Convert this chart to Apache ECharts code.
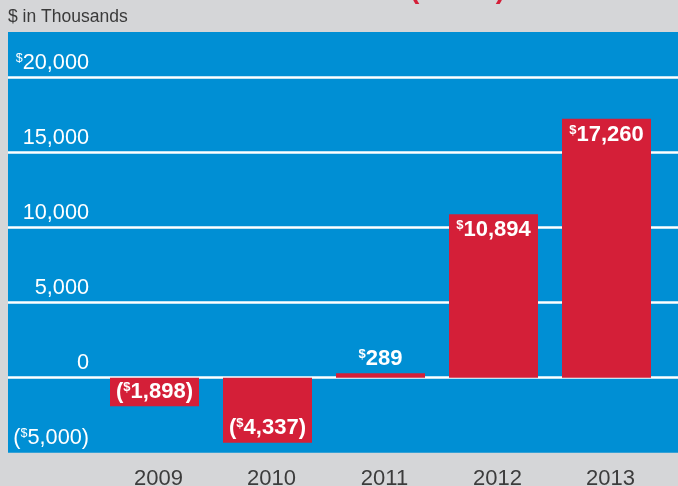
<!DOCTYPE html>
<html>
<head>
<meta charset="utf-8">
<script src="https://cdn.jsdelivr.net/npm/echarts@6/dist/echarts.min.js"></script>
<style>
html,body{margin:0;padding:0;background:#d5d6d8;}
#chart{width:678px;height:486px;}
</style>
</head>
<body>
<div id="chart"></div>
<script>
const categories = ['2009', '2010', '2011', '2012', '2013'];
const netIncome = [-1898, -4337, 289, 10894, 17260];
const yMin = -5000;
const yMax = 20000;
const yStep = 5000;
const unitLabel = '$ in Thousands';
const titleText = 'NET INCOME (LOSS)';

const FONT = '"Liberation Sans", Arial, Helvetica, sans-serif';
const fmt = v => Math.abs(v).toLocaleString('en-US');

function axisFmt(v) {
  if (v === yMax) return '{s|$}' + fmt(v);
  if (v < 0) return '({s|$}' + fmt(v) + ')';
  return fmt(v);
}
function barFmt(p) {
  const v = p.value;
  if (v < 0) return '({s|$}' + fmt(v) + ')';
  return '{s|$}' + fmt(v);
}
function labelPos(v) {
  if (v < 0) return Math.abs(v) < 3000 ? 'inside' : 'insideBottom';
  return v < 2000 ? 'top' : 'insideTop';
}

const chart = echarts.init(document.getElementById('chart'));
const gridTop = 77.7, gridBottom = 486 - 452.7;

chart.setOption({
  backgroundColor: '#d5d6d8',
  animation: false,
  graphic: [
    { type: 'rect', z: -10, shape: { x: 8, y: 32, width: 670, height: 420.7 },
      style: { fill: '#008fd4' } },
    { type: 'text', x: 8, y: 17, style: { text: unitLabel, font: '17.5px ' + FONT, fill: '#3a3a3a', textVerticalAlign: 'middle' } },
    { type: 'text', x: 505, y: 4, style: { text: titleText, font: 'bold 28px ' + FONT, fill: '#d41f38', textAlign: 'right', textVerticalAlign: 'bottom' } }
  ],
  grid: [
    { left: 8, right: 0, top: gridTop, bottom: gridBottom, containLabel: false, outerBoundsMode: 'none' },
    { left: 98, right: 15, top: gridTop, bottom: gridBottom, containLabel: false, outerBoundsMode: 'none' }
  ],
  xAxis: [
    { type: 'value', gridIndex: 0, show: false },
    { type: 'category', gridIndex: 1, data: categories,
      axisLine: { show: false }, axisTick: { show: false },
      axisLabel: { color: '#3c3c3c', fontSize: 22, fontFamily: FONT, margin: 15, padding: [0, 0, 0, 8] } }
  ],
  yAxis: [
    { type: 'value', gridIndex: 0, min: yMin, max: yMax, interval: yStep,
      axisLine: { show: false }, axisTick: { show: false },
      splitLine: { show: true, showMinLine: false, lineStyle: { color: '#ffffff', width: 2.5 } },
      axisLabel: { inside: true, margin: 81, align: 'right', verticalAlign: 'middle', padding: [0, 0, 30, 0],
        color: '#ffffff', fontSize: 21.7, fontFamily: FONT, formatter: axisFmt,
        rich: { s: { fontSize: 12.5, lineHeight: 12, verticalAlign: 'top', color: '#ffffff', fontFamily: FONT } } } },
    { type: 'value', gridIndex: 1, min: yMin, max: yMax, interval: yStep, show: false, splitLine: { show: false } }
  ],
  series: [{
    type: 'bar', xAxisIndex: 1, yAxisIndex: 1, barWidth: 89,
    itemStyle: { color: '#d41f38' },
    data: netIncome.map(v => ({
      value: v,
      label: { show: true, position: labelPos(v), distance: v < 0 ? 4 : (v < 2000 ? 3 : 5) }
    })),
    label: {
      show: true, color: '#ffffff', fontSize: 22, fontWeight: 'bold', fontFamily: FONT, formatter: barFmt,
      rich: { s: { fontSize: 13, lineHeight: 12, fontWeight: 'bold', verticalAlign: 'top', color: '#ffffff', fontFamily: FONT } }
    }
  }]
});
</script>
</body>
</html>
